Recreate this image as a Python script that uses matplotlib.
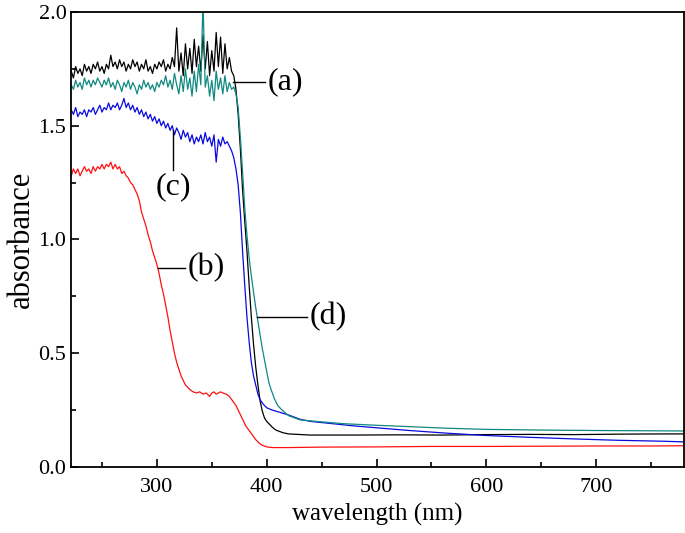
import numpy as np
import matplotlib.pyplot as plt
from matplotlib.ticker import MultipleLocator

plt.rcParams['font.family'] = ['Liberation Serif', 'DejaVu Serif']

# noisy plateau region, 2 nm steps
wl_plateau = np.arange(220, 372, 2)

abs_a_plateau = [1.70, 1.74, 1.71, 1.76, 1.73, 1.75, 1.72, 1.77, 1.74, 1.76,
                 1.73, 1.77, 1.75, 1.78, 1.74, 1.76, 1.73, 1.77, 1.75, 1.81,
                 1.76, 1.78, 1.75, 1.79, 1.76, 1.78, 1.74, 1.77, 1.75, 1.79,
                 1.76, 1.78, 1.74, 1.77, 1.75, 1.79, 1.74, 1.76, 1.73, 1.77,
                 1.75, 1.78, 1.76, 1.79, 1.74, 1.77, 1.75, 1.80, 1.76, 1.93,
                 1.74, 1.82, 1.72, 1.86, 1.75, 1.84, 1.73, 1.88, 1.76, 1.85,
                 1.74, 1.90, 1.75, 1.87, 1.72, 1.83, 1.74, 1.91, 1.76, 1.89,
                 1.73, 1.86, 1.75, 1.80, 1.74, 1.72]
wl_a_tail = [372, 374, 376, 378, 380, 382, 384, 386, 388, 390, 392, 394, 396,
             398, 400, 402, 405, 408, 411, 415, 420, 440, 480, 520, 560, 600,
             640, 680, 720, 760, 780]
abs_a_tail = [1.66, 1.55, 1.40, 1.22, 1.08, 0.95, 0.80, 0.66, 0.54, 0.44, 0.36,
              0.29, 0.245, 0.215, 0.20, 0.19, 0.175, 0.163, 0.157, 0.15, 0.145,
              0.14, 0.14, 0.141, 0.14, 0.142, 0.143, 0.142, 0.144, 0.145, 0.145]

abs_d_plateau = [1.64, 1.68, 1.66, 1.70, 1.67, 1.69, 1.66, 1.71, 1.68, 1.70,
                 1.67, 1.70, 1.68, 1.71, 1.69, 1.67, 1.70, 1.68, 1.71, 1.67,
                 1.69, 1.66, 1.70, 1.68, 1.65, 1.69, 1.67, 1.70, 1.66, 1.69,
                 1.67, 1.64, 1.68, 1.66, 1.70, 1.67, 1.69, 1.66, 1.68, 1.65,
                 1.69, 1.67, 1.70, 1.68, 1.72, 1.67, 1.70, 1.66, 1.73, 1.68,
                 1.64, 1.72, 1.65, 1.75, 1.66, 1.71, 1.63, 1.74, 1.65, 1.77,
                 1.68, 2.05, 1.67, 1.72, 1.63, 1.70, 1.61, 1.74, 1.66, 1.71,
                 1.64, 1.72, 1.65, 1.69, 1.66, 1.67]
wl_d_tail = [372, 374, 376, 378, 380, 382, 384, 386, 388, 390, 392, 394, 396,
             398, 400, 402, 404, 407, 410, 414, 420, 430, 450, 470, 500, 530,
             565, 600, 650, 700, 740, 780]
abs_d_tail = [1.64, 1.58, 1.45, 1.30, 1.14, 1.02, 0.92, 0.84, 0.77, 0.70, 0.64,
              0.58, 0.52, 0.47, 0.42, 0.37, 0.34, 0.30, 0.27, 0.25, 0.225,
              0.207, 0.198, 0.19, 0.183, 0.177, 0.17, 0.165, 0.162, 0.16,
              0.159, 0.158]

abs_c_plateau = [1.54, 1.57, 1.55, 1.58, 1.54, 1.56, 1.55, 1.57, 1.54, 1.57,
                 1.56, 1.58, 1.55, 1.57, 1.59, 1.56, 1.58, 1.57, 1.60, 1.57,
                 1.59, 1.58, 1.60, 1.57, 1.59, 1.62, 1.58, 1.60, 1.57, 1.59,
                 1.56, 1.58, 1.55, 1.57, 1.54, 1.56, 1.53, 1.55, 1.52, 1.54,
                 1.51, 1.53, 1.50, 1.52, 1.49, 1.51, 1.48, 1.50, 1.46, 1.49,
                 1.47, 1.44, 1.48, 1.45, 1.47, 1.43, 1.46, 1.42, 1.45, 1.43,
                 1.46, 1.42, 1.47, 1.43, 1.45, 1.41, 1.46, 1.34, 1.44, 1.41,
                 1.45, 1.42, 1.43, 1.41, 1.39, 1.36]
wl_c_tail = [372, 374, 376, 378, 380, 382, 384, 386, 388, 390, 392, 394, 397,
             400, 405, 412, 420, 430, 440, 460, 480, 505, 530, 565, 600, 640,
             680, 720, 760, 780]
abs_c_tail = [1.31, 1.24, 1.12, 0.95, 0.80, 0.66, 0.55, 0.46, 0.40, 0.36, 0.32,
              0.295, 0.275, 0.26, 0.25, 0.24, 0.228, 0.21, 0.20, 0.19, 0.18,
              0.17, 0.16, 0.148, 0.138, 0.13, 0.123, 0.117, 0.113, 0.11]

wl_b = [220, 222, 224, 226, 228, 230, 232, 234, 236, 238, 240, 242, 244, 246,
        248, 250, 252, 254, 256, 258, 260, 262, 264, 266, 268, 270, 272, 274,
        276, 278, 280, 282, 284, 286, 288, 290, 292, 294, 296, 298, 300, 302,
        304, 306, 308, 310, 312, 314, 316, 318, 320, 322, 324, 326, 328, 330,
        333, 336, 339, 342, 345, 348, 350, 352, 354, 356, 358, 360, 363, 366,
        369, 372, 375, 378, 381, 384, 387, 390, 393, 396, 400, 405, 420, 450,
        500, 550, 600, 650, 700, 750, 780]
abs_b = [1.30, 1.28, 1.31, 1.29, 1.31, 1.28, 1.30, 1.32, 1.30, 1.31, 1.29,
         1.32, 1.30, 1.32, 1.31, 1.33, 1.31, 1.33, 1.32, 1.34, 1.31, 1.33,
         1.31, 1.32, 1.29, 1.30, 1.28, 1.27, 1.25, 1.24, 1.22, 1.20, 1.17,
         1.12, 1.09, 1.06, 1.02, 0.99, 0.95, 0.92, 0.89, 0.85, 0.80, 0.76,
         0.71, 0.66, 0.60, 0.55, 0.50, 0.46, 0.43, 0.40, 0.38, 0.36, 0.35,
         0.34, 0.33, 0.325, 0.33, 0.32, 0.325, 0.31, 0.325, 0.33, 0.32, 0.325,
         0.33, 0.325, 0.32, 0.31, 0.29, 0.27, 0.24, 0.21, 0.18, 0.16, 0.14,
         0.12, 0.105, 0.095, 0.088, 0.085, 0.085, 0.087, 0.088, 0.09, 0.09,
         0.091, 0.092, 0.092, 0.093]

wl_a = list(wl_plateau) + wl_a_tail
abs_a = abs_a_plateau + abs_a_tail
wl_c = list(wl_plateau) + wl_c_tail
abs_c = abs_c_plateau + abs_c_tail
wl_d = list(wl_plateau) + wl_d_tail
abs_d = abs_d_plateau + abs_d_tail

fig = plt.figure(figsize=(6.85, 5.33), dpi=100)
ax = fig.add_axes([0.104, 0.124, 0.8945, 0.8535])

ax.plot(wl_a, abs_a, color='black', lw=0.9)
ax.plot(wl_b, abs_b, color='#ff1010', lw=0.9)
ax.plot(wl_c, abs_c, color='#0a0ae0', lw=0.9)
ax.plot(wl_d, abs_d, color='#108a80', lw=0.9)

ax.set_xlim(222, 780)
ax.set_ylim(0, 2.0)
ax.xaxis.set_major_locator(MultipleLocator(100))
ax.xaxis.set_minor_locator(MultipleLocator(50))
ax.yaxis.set_major_locator(MultipleLocator(0.5))
ax.yaxis.set_minor_locator(MultipleLocator(0.25))
ax.yaxis.set_major_formatter(plt.FormatStrFormatter('%.1f'))
ax.tick_params(which='both', direction='in', labelsize=16, width=1.2)
ax.tick_params(which='major', length=6)
ax.tick_params(which='minor', length=3.5)
ax.tick_params(axis='x', pad=8)
for s in ax.spines.values():
    s.set_linewidth(1.3)

ax.set_xlabel('wavelength (nm)', fontsize=18, labelpad=4)
ax.set_ylabel('absorbance', fontsize=22, labelpad=2)

# curve labels with leader lines
lab_fs = 23
ax.plot([369.5, 398.5], [1.692, 1.692], color='black', lw=1)
ax.text(401, 1.692, '(a)', fontsize=lab_fs, va='center', ha='left')
ax.plot([301, 326], [0.875, 0.875], color='black', lw=1)
ax.text(328, 0.875, '(b)', fontsize=lab_fs, va='center', ha='left')
ax.plot([314.6, 314.6], [1.48, 1.305], color='black', lw=1)
ax.text(314.6, 1.23, '(c)', fontsize=lab_fs, va='center', ha='center')
ax.plot([391.5, 437], [0.66, 0.66], color='black', lw=1)
ax.text(439, 0.66, '(d)', fontsize=lab_fs, va='center', ha='left')

fig.savefig('out.png', dpi=100)
